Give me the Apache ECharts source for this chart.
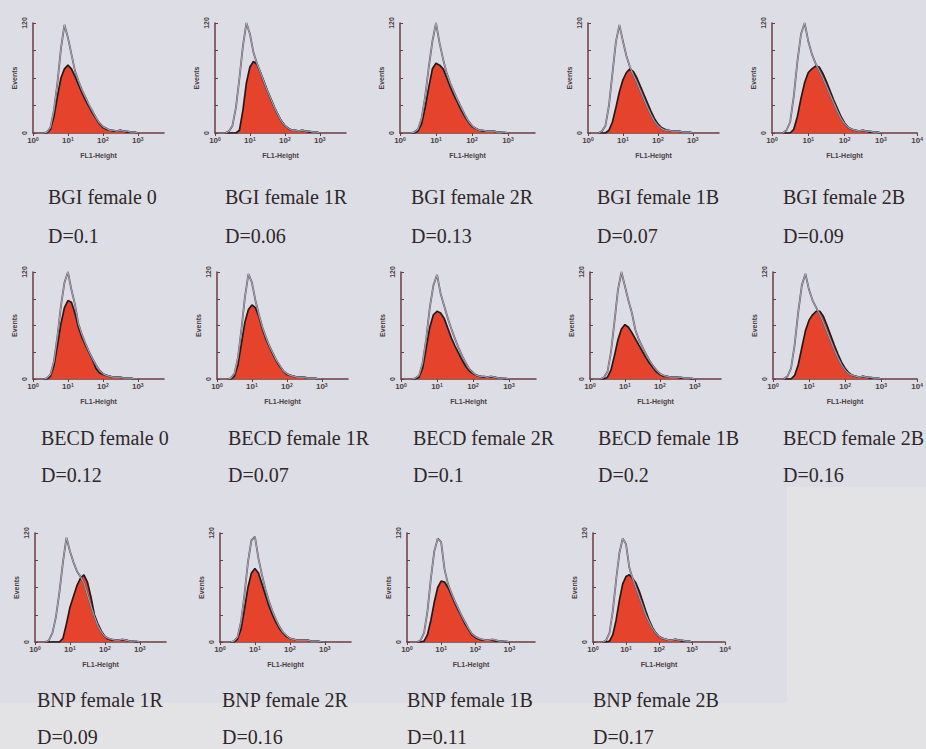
<!DOCTYPE html>
<html>
<head>
<meta charset="utf-8">
<title>FL1 histograms</title>
<script src="https://cdn.jsdelivr.net/npm/echarts@6/dist/echarts.min.js"></script>
<style>
  html, body { margin: 0; padding: 0; background: #dddde5; }
  #main { width: 926px; height: 749px; }
</style>
</head>
<body>
<div id="main"></div>
<script>
// bin centres, in decades of FL1-Height (0 = 10^0)
var bins = [0.3,0.4,0.5,0.6,0.7,0.8,0.9,1.0,1.1,1.2,1.3,1.4,1.5,1.6,1.7,1.8,1.9,2.0,2.1,2.2,2.3,2.4,2.5,2.6,2.7,2.8,2.9,3.0];

var captions = ['BGI female 0','BGI female 1R','BGI female 2R','BGI female 1B','BGI female 2B',
                'BECD female 0','BECD female 1R','BECD female 2R','BECD female 1B','BECD female 2B',
                'BNP female 1R','BNP female 2R','BNP female 1B','BNP female 2B'];
var dValues = ['0.1','0.06','0.13','0.07','0.09',
               '0.12','0.07','0.1','0.2','0.16',
               '0.09','0.16','0.11','0.17'];
var decadesShown = [3.75,3.75,3.75,3.75,4, 3.75,3.75,3.75,3.75,4, 3.75,3.75,3.75,4];

// control (open histogram) and sample (filled) event counts per bin
var bgi0Ctrl  = [0,1,6,25,55,92,118,104,86,68,57,47,39,31,24,17,11,7,5,3,3,2,3,2,2,1,1,0];
var bgi0Samp  = [0,0,4,18,40,60,70,74,70,62,53,44,36,29,22,16,10,6,4,3,2,2,3,2,1,1,1,0];
var bgi1rCtrl = [0,2,8,28,60,95,120,108,88,76,66,56,46,37,28,20,13,8,5,3,3,2,3,2,2,1,1,0];
var bgi1rSamp = [0,0,0,0,3,25,55,72,78,75,66,56,46,37,28,20,13,8,5,3,3,2,3,2,1,1,1,0];
var bgi2rCtrl = [0,1,4,16,40,72,100,120,98,80,65,54,45,36,28,20,13,8,5,3,3,2,2,2,1,1,1,0];
var bgi2rSamp = [0,0,2,10,28,50,70,76,74,70,60,50,41,33,25,18,12,7,5,3,2,2,2,2,1,1,0,0];
var bgi1bCtrl = [0,2,8,30,65,100,118,100,84,72,63,55,46,37,28,20,13,8,5,3,3,2,2,2,1,1,1,0];
var bgi1bSamp = [0,0,0,3,12,28,45,58,66,70,67,60,51,42,33,24,16,10,6,4,3,2,2,2,1,1,1,0];
var bgi2bCtrl = [0,3,12,40,78,108,120,100,86,76,68,60,51,42,33,24,16,10,6,4,3,2,3,2,2,1,1,0];
var bgi2bSamp = [0,0,0,4,18,38,55,66,70,73,72,65,56,46,36,27,18,11,6,4,3,2,3,2,1,1,1,0];

var becd0Ctrl  = [0,1,5,20,48,82,108,120,100,84,62,50,40,31,23,16,10,6,4,3,2,2,2,1,1,1,0,0];
var becd0Samp  = [0,0,3,15,38,62,80,88,86,74,58,47,38,30,22,12,7,5,4,3,2,2,2,1,1,1,0,0];
var becd1rCtrl = [0,1,6,24,56,92,118,108,88,72,58,47,37,29,21,15,9,6,4,3,2,2,2,1,1,1,0,0];
var becd1rSamp = [0,0,3,16,40,64,78,83,80,70,56,45,36,28,20,14,9,5,4,3,2,2,2,1,1,1,0,0];
var becd2rCtrl = [0,1,4,18,45,80,105,117,96,82,68,56,45,35,26,18,11,7,4,3,3,2,3,2,1,1,1,0];
var becd2rSamp = [0,0,2,12,35,58,72,76,74,68,57,46,37,29,21,14,9,6,4,3,2,2,2,2,1,1,0,0];
var becd1bCtrl = [0,2,8,30,64,100,120,104,88,74,55,44,36,28,21,15,10,6,4,3,2,2,2,2,1,1,1,0];
var becd1bSamp = [0,0,2,10,26,44,56,61,58,52,45,38,31,24,18,13,8,5,3,3,2,2,2,1,1,1,0,0];
var becd2bCtrl = [0,3,12,38,75,105,118,100,88,80,72,63,53,43,33,24,16,10,6,4,3,2,3,2,2,1,1,0];
var becd2bSamp = [0,0,0,4,16,35,54,66,72,76,76,70,60,49,38,28,19,12,7,4,3,2,3,2,1,1,1,0];

var bnp1rCtrl = [0,2,10,28,55,88,115,100,88,78,72,65,52,40,28,18,11,6,4,3,2,2,3,2,1,1,1,0];
var bnp1rSamp = [0,0,0,0,0,4,20,38,50,62,70,74,66,50,30,20,12,6,3,2,2,2,2,2,1,1,0,0];
var bnp2rCtrl = [0,1,5,22,52,88,112,116,92,74,58,45,34,25,17,11,7,4,3,2,2,2,2,1,1,1,0,0];
var bnp2rSamp = [0,0,3,14,36,60,76,81,76,64,52,40,30,22,15,10,6,4,3,2,2,2,2,1,1,1,0,0];
var bnp1bCtrl = [0,2,10,34,70,100,114,110,80,64,54,45,37,29,22,15,9,6,4,3,2,2,3,2,1,1,1,0];
var bnp1bSamp = [0,0,1,8,24,44,60,67,66,60,52,43,35,28,20,14,8,5,3,2,2,2,2,1,1,1,0,0];
var bnp2bCtrl = [0,2,10,34,68,98,114,108,82,70,60,50,40,30,22,15,10,6,4,3,2,2,3,2,2,1,1,0];
var bnp2bSamp = [0,0,1,8,24,46,64,72,74,70,65,56,45,34,24,16,10,6,4,3,2,2,3,2,1,1,1,0];

var controls = [bgi0Ctrl,bgi1rCtrl,bgi2rCtrl,bgi1bCtrl,bgi2bCtrl,
                becd0Ctrl,becd1rCtrl,becd2rCtrl,becd1bCtrl,becd2bCtrl,
                bnp1rCtrl,bnp2rCtrl,bnp1bCtrl,bnp2bCtrl];
var samples = [bgi0Samp,bgi1rSamp,bgi2rSamp,bgi1bSamp,bgi2bSamp,
               becd0Samp,becd1rSamp,becd2rSamp,becd1bSamp,becd2bSamp,
               bnp1rSamp,bnp2rSamp,bnp1bSamp,bnp2bSamp];

// panel layout: y-axis x, plot top, plot height, px per decade, caption x, caption y, D y
var layout = [
  [33,23,110,35,48,197,236],[215,23,110,35,225,197,236],[400,23,110,36,411,197,236],[588,23,110,35,597,197,236],[772,23,110,37,783,197,236],
  [33,272,107,35,41,438,475],[217,272,107,35,228,438,475],[401,272,107,36,413,438,475],[590,272,107,35,598,438,475],[773,272,107,37,783,438,475],
  [35,533,109,35,37,700,737],[220,533,109,35,222,700,737],[407,533,109,34,407,700,737],[593,533,109,33,593,700,737]
];

var axisColor = '#6a3c40';
var labelColor = '#4a4042';
var textFont = '"Liberation Serif", "Times New Roman", serif';

var myChart = echarts.init(document.getElementById('main'), null, {renderer: 'svg'});

var grids = [], xAxes = [], yAxes = [], series = [];
var graphics = [
  {type: 'rect', z: -10, silent: true, shape: {x: 787, y: 487, width: 139, height: 262}, style: {fill: '#e3e3e6'}},
  {type: 'rect', z: -10, silent: true, shape: {x: 0, y: 703, width: 787, height: 46}, style: {fill: '#e3e3e6'}}
];

for (var i = 0; i < captions.length; i++) {
  var L = layout[i];
  var xMax = decadesShown[i];
  var decades = xMax >= 4 ? [0,1,2,3,4] : [0,1,2,3];
  grids.push({left: L[0], top: L[1], width: Math.round(L[3] * xMax), height: L[2]});

  xAxes.push({
    type: 'value', gridIndex: i, min: 0, max: xMax,
    name: 'FL1-Height', nameLocation: 'middle', nameGap: 19,
    nameTextStyle: {fontSize: 7, fontWeight: 'bold', color: labelColor, fontFamily: 'Liberation Sans, Arial'},
    splitLine: {show: false},
    axisLine: {lineStyle: {color: axisColor, width: 1.5}},
    axisTick: {customValues: decades, length: 3, lineStyle: {color: axisColor}},
    axisLabel: {
      customValues: decades, margin: 3, fontSize: 8, fontWeight: 'bold', color: labelColor, fontFamily: 'Liberation Sans, Arial',
      formatter: function (v) { return '10{s|' + v + '}'; },
      rich: {s: {fontSize: 5, fontWeight: 'bold', verticalAlign: 'top', color: labelColor}}
    }
  });

  yAxes.push({
    type: 'value', gridIndex: i, min: 0, max: 120, interval: 30,
    name: 'Events', nameLocation: 'middle', nameGap: 15, nameRotate: 90,
    nameTextStyle: {fontSize: 7, fontWeight: 'bold', color: labelColor, fontFamily: 'Liberation Sans, Arial'},
    splitLine: {show: false},
    axisLine: {lineStyle: {color: axisColor, width: 1.5}},
    axisTick: {inside: true, length: 3, lineStyle: {color: axisColor}},
    axisLabel: {
      rotate: 90, margin: 5, fontSize: 7, fontWeight: 'bold', color: labelColor, fontFamily: 'Liberation Sans, Arial',
      formatter: function (v) { return (v === 0 || v === 120) ? String(v) : ''; }
    }
  });

  var sampData = bins.map(function (b, j) { return [b, samples[i][j]]; });
  var ctrlData = bins.map(function (b, j) { return [b, controls[i][j]]; });

  series.push({
    type: 'line', xAxisIndex: i, yAxisIndex: i, data: sampData, symbol: 'none', z: 2,
    lineStyle: {color: '#221a1c', width: 1.7},
    areaStyle: {color: '#e6432c', opacity: 1}
  });
  series.push({
    type: 'line', xAxisIndex: i, yAxisIndex: i, data: ctrlData, symbol: 'none', z: 3,
    lineStyle: {color: '#5a4f60', width: 1.8}
  });
  series.push({
    type: 'line', xAxisIndex: i, yAxisIndex: i, data: ctrlData, symbol: 'none', z: 4,
    lineStyle: {color: '#dedce6', width: 0.6}
  });

  graphics.push({
    type: 'text', x: L[4], y: L[5],
    style: {text: captions[i], font: '20px ' + textFont, fill: '#2f2729', verticalAlign: 'middle'}
  });
  graphics.push({
    type: 'text', x: L[4], y: L[6],
    style: {text: 'D=' + dValues[i], font: '20px ' + textFont, fill: '#2f2729', verticalAlign: 'middle'}
  });
}

var option = {
  backgroundColor: '#dddde5',
  animation: false,
  grid: grids,
  xAxis: xAxes,
  yAxis: yAxes,
  series: series,
  graphic: graphics
};

myChart.setOption(option);
</script>
</body>
</html>
